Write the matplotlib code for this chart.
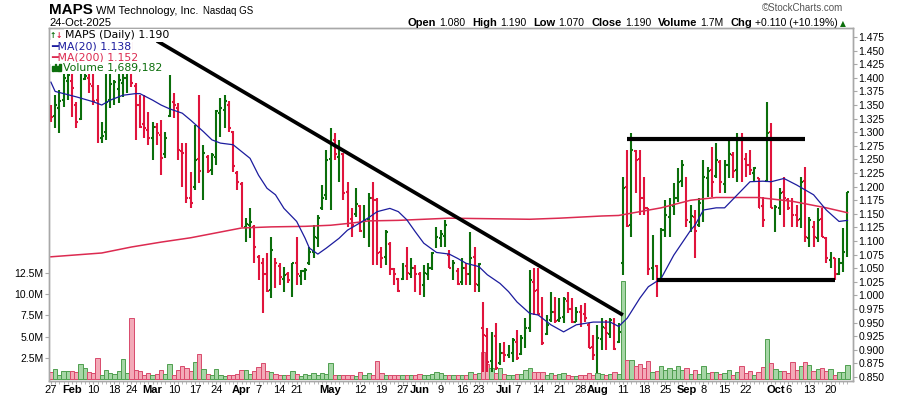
import matplotlib
matplotlib.use('Agg')
import matplotlib.pyplot as plt
from matplotlib.patches import Rectangle
from matplotlib.ticker import FormatStrFormatter
import numpy as np
import pandas as pd

plt.rcParams['font.family'] = ['Liberation Sans', 'DejaVu Sans']

# ---------------- data ----------------
symbol = 'MAPS'
company = 'WM Technology, Inc.'
exchange = 'Nasdaq GS'
chart_date = '24-Oct-2025'

holidays = ['2025-02-17', '2025-04-18', '2025-05-26', '2025-06-19', '2025-07-04', '2025-09-01']
dates = pd.bdate_range('2025-01-27', '2025-10-24', freq='C', holidays=holidays)

opens = [
    1.340, 1.330, 1.345, 1.360, 1.395, 1.395, 1.350, 1.325, 1.398, 1.400,
    1.385, 1.360, 1.290, 1.300, 1.360, 1.385, 1.380, 1.390, 1.400, 1.455,
    1.385, 1.350, 1.315, 1.305, 1.290, 1.310, 1.295, 1.260, 1.330, 1.355,
    1.345, 1.265, 1.260, 1.180, 1.200, 1.250, 1.230, 1.255, 1.230, 1.255,
    1.335, 1.340, 1.350, 1.300, 1.225, 1.205, 1.125, 1.130, 1.125, 1.070,
    1.060, 1.040, 1.010, 1.065, 1.055, 1.030, 1.040, 1.030, 1.060, 1.035,
    1.045, 1.060, 1.080, 1.105, 1.160, 1.185, 1.250, 1.285, 1.255, 1.260,
    1.190, 1.140, 1.150, 1.165, 1.115, 1.140, 1.180, 1.175, 1.080, 1.070,
    1.095, 1.048, 1.030, 1.030, 1.055, 1.040, 1.050, 1.040, 1.020, 1.040,
    1.050, 1.090, 1.105, 1.110, 1.075, 1.050, 1.045, 1.025, 1.050, 1.040,
    1.070, 1.020, 0.940, 0.925, 0.880, 0.925, 0.875, 0.895, 0.890, 0.895,
    0.915, 0.892, 0.920, 0.940, 1.025, 1.010, 0.965, 0.930, 0.955, 0.970,
    0.955, 0.960, 0.990, 0.975, 0.952, 0.970, 0.965, 0.945, 0.905, 0.890,
    0.920, 0.940, 0.930, 0.955, 0.915, 1.060, 1.200, 1.130, 1.265, 1.250,
    1.180, 1.160, 1.050, 1.055, 1.030, 1.120, 1.145, 1.165, 1.180, 1.210,
    1.215, 1.135, 1.145, 1.130, 1.170, 1.215, 1.230, 1.220, 1.245, 1.205,
    1.240, 1.258, 1.230, 1.285, 1.250, 1.240, 1.225, 1.215, 1.165, 1.210,
    1.300, 1.160, 1.160, 1.190, 1.175, 1.160, 1.148, 1.140, 1.210, 1.105,
    1.125, 1.105, 1.140, 1.105, 1.065, 1.068, 1.040, 1.060, 1.080]

highs = [
    1.350, 1.368, 1.378, 1.424, 1.420, 1.418, 1.356, 1.414, 1.429, 1.422,
    1.414, 1.387, 1.319, 1.418, 1.422, 1.396, 1.414, 1.418, 1.462, 1.473,
    1.390, 1.368, 1.368, 1.337, 1.319, 1.317, 1.322, 1.300, 1.405, 1.372,
    1.354, 1.280, 1.280, 1.227, 1.313, 1.368, 1.277, 1.258, 1.262, 1.341,
    1.363, 1.368, 1.357, 1.302, 1.229, 1.208, 1.142, 1.161, 1.129, 1.074,
    1.069, 1.078, 1.107, 1.069, 1.060, 1.052, 1.043, 1.060, 1.107, 1.047,
    1.050, 1.089, 1.129, 1.148, 1.203, 1.267, 1.308, 1.299, 1.286, 1.262,
    1.208, 1.161, 1.197, 1.166, 1.166, 1.188, 1.208, 1.179, 1.089, 1.120,
    1.098, 1.050, 1.032, 1.060, 1.089, 1.069, 1.056, 1.043, 1.056, 1.060,
    1.080, 1.126, 1.120, 1.139, 1.083, 1.065, 1.050, 1.069, 1.060, 1.117,
    1.089, 1.060, 0.988, 0.940, 0.933, 0.949, 0.913, 0.914, 0.909, 0.922,
    0.936, 0.927, 0.958, 1.047, 1.050, 1.050, 0.997, 0.964, 1.006, 0.997,
    0.995, 0.997, 1.006, 0.995, 0.979, 0.982, 0.986, 0.949, 0.927, 0.946,
    0.958, 0.955, 0.958, 0.958, 0.949, 1.218, 1.267, 1.299, 1.267, 1.267,
    1.218, 1.161, 1.111, 1.056, 1.124, 1.175, 1.179, 1.207, 1.234, 1.249,
    1.218, 1.166, 1.157, 1.179, 1.249, 1.236, 1.273, 1.280, 1.249, 1.249,
    1.286, 1.264, 1.299, 1.299, 1.262, 1.267, 1.236, 1.216, 1.181, 1.356,
    1.317, 1.166, 1.197, 1.218, 1.179, 1.179, 1.166, 1.218, 1.236, 1.144,
    1.137, 1.161, 1.161, 1.107, 1.080, 1.069, 1.069, 1.124, 1.190]

lows = [
    1.319, 1.308, 1.299, 1.346, 1.360, 1.328, 1.308, 1.322, 1.396, 1.372,
    1.350, 1.280, 1.280, 1.286, 1.344, 1.350, 1.354, 1.365, 1.372, 1.383,
    1.286, 1.308, 1.289, 1.277, 1.249, 1.277, 1.221, 1.253, 1.328, 1.326,
    1.249, 1.199, 1.170, 1.161, 1.194, 1.207, 1.175, 1.225, 1.221, 1.240,
    1.291, 1.308, 1.300, 1.227, 1.194, 1.126, 1.098, 1.106, 1.060, 1.028,
    0.968, 1.006, 0.995, 1.014, 1.019, 1.006, 1.023, 0.997, 1.019, 1.019,
    1.028, 1.056, 1.069, 1.089, 1.157, 1.175, 1.157, 1.249, 1.208, 1.175,
    1.126, 1.107, 1.144, 1.117, 1.106, 1.089, 1.056, 1.056, 1.050, 1.056,
    1.038, 1.019, 1.006, 1.028, 1.028, 1.032, 1.006, 1.001, 0.997, 1.028,
    1.047, 1.087, 1.089, 1.089, 1.050, 1.028, 1.019, 1.019, 1.019, 1.019,
    1.006, 1.006, 0.859, 0.859, 0.859, 0.863, 0.872, 0.878, 0.885, 0.878,
    0.881, 0.890, 0.903, 0.933, 0.964, 0.964, 0.909, 0.927, 0.951, 0.949,
    0.951, 0.949, 0.968, 0.949, 0.951, 0.942, 0.951, 0.903, 0.881, 0.857,
    0.900, 0.900, 0.922, 0.900, 0.913, 1.038, 1.126, 1.107, 1.188, 1.148,
    1.148, 1.038, 1.028, 0.997, 1.028, 1.107, 1.107, 1.148, 1.172, 1.199,
    1.126, 1.117, 1.069, 1.126, 1.135, 1.181, 1.181, 1.216, 1.188, 1.188,
    1.216, 1.216, 1.208, 1.208, 1.218, 1.221, 1.208, 1.161, 1.126, 1.208,
    1.161, 1.117, 1.148, 1.126, 1.157, 1.126, 1.126, 1.124, 1.098, 1.089,
    1.089, 1.098, 1.107, 1.060, 1.050, 1.028, 1.038, 1.043, 1.070]

closes = [
    1.328, 1.350, 1.357, 1.400, 1.405, 1.381, 1.319, 1.381, 1.403, 1.389,
    1.357, 1.289, 1.293, 1.356, 1.389, 1.392, 1.396, 1.400, 1.457, 1.390,
    1.350, 1.310, 1.308, 1.289, 1.310, 1.299, 1.253, 1.289, 1.357, 1.350,
    1.267, 1.262, 1.179, 1.170, 1.249, 1.229, 1.262, 1.229, 1.258, 1.339,
    1.344, 1.357, 1.308, 1.238, 1.208, 1.128, 1.131, 1.135, 1.089, 1.060,
    1.039, 1.008, 1.083, 1.060, 1.034, 1.038, 1.028, 1.060, 1.039, 1.045,
    1.047, 1.080, 1.107, 1.142, 1.179, 1.249, 1.286, 1.260, 1.267, 1.188,
    1.139, 1.129, 1.168, 1.118, 1.139, 1.179, 1.175, 1.078, 1.069, 1.117,
    1.049, 1.039, 1.008, 1.058, 1.041, 1.050, 1.039, 1.021, 1.041, 1.050,
    1.078, 1.107, 1.113, 1.129, 1.050, 1.060, 1.021, 1.050, 1.039, 1.069,
    1.021, 1.058, 0.927, 0.878, 0.927, 0.867, 0.894, 0.890, 0.894, 0.918,
    0.885, 0.922, 0.940, 1.028, 1.008, 0.966, 0.913, 0.946, 0.970, 0.953,
    0.958, 0.993, 0.975, 0.951, 0.970, 0.964, 0.958, 0.903, 0.890, 0.922,
    0.942, 0.931, 0.955, 0.902, 0.933, 1.197, 1.128, 1.267, 1.249, 1.179,
    1.161, 1.049, 1.058, 1.028, 1.120, 1.148, 1.168, 1.179, 1.208, 1.240,
    1.139, 1.146, 1.118, 1.170, 1.218, 1.229, 1.208, 1.249, 1.208, 1.240,
    1.260, 1.229, 1.286, 1.249, 1.240, 1.231, 1.234, 1.161, 1.139, 1.299,
    1.161, 1.163, 1.188, 1.179, 1.161, 1.148, 1.139, 1.208, 1.107, 1.139,
    1.107, 1.139, 1.107, 1.069, 1.072, 1.039, 1.060, 1.080, 1.190]

# volume in millions of shares
volume_m = [
    0.80, 1.20, 0.50, 0.90, 0.90, 0.90, 0.80, 1.70, 1.30, 0.80,
    0.70, 2.50, 0.50, 1.10, 0.70, 0.55, 0.90, 2.40, 0.70, 7.20,
    1.10, 0.90, 0.50, 0.70, 0.50, 0.55, 1.10, 0.55, 1.70, 0.50,
    1.10, 1.50, 1.30, 0.90, 2.00, 2.90, 1.20, 0.55, 0.47, 1.19,
    0.40, 0.28, 0.47, 0.40, 0.55, 1.07, 1.07, 0.55, 0.95, 1.34,
    1.86, 0.87, 0.79, 0.55, 0.40, 0.47, 0.40, 0.87, 0.55, 0.28,
    0.55, 0.40, 0.67, 0.47, 0.67, 0.55, 1.86, 0.47, 0.47, 0.40,
    0.47, 0.40, 0.28, 0.79, 0.47, 0.67, 0.40, 2.13, 0.67, 0.47,
    0.40, 0.40, 0.40, 0.47, 0.47, 0.40, 0.47, 0.55, 0.40, 0.47,
    0.55, 0.79, 0.67, 0.40, 0.47, 0.47, 0.47, 0.40, 0.40, 0.79,
    0.55, 0.67, 3.16, 1.74, 1.26, 0.67, 1.26, 0.55, 0.40, 0.40,
    0.55, 0.55, 1.07, 1.26, 0.79, 0.79, 0.79, 0.40, 0.67, 0.40,
    0.55, 0.67, 0.40, 0.28, 0.28, 0.40, 0.47, 0.67, 0.47, 0.67,
    0.55, 0.40, 0.55, 0.79, 0.55, 11.60, 2.25, 2.25, 1.46, 1.74,
    1.26, 2.13, 0.79, 0.87, 1.46, 1.07, 1.26, 1.07, 1.46, 1.07,
    1.26, 0.55, 1.07, 0.55, 1.46, 0.67, 0.79, 0.79, 0.55, 0.67,
    1.07, 0.40, 0.79, 1.46, 0.67, 0.95, 0.40, 0.79, 1.38, 4.70,
    1.86, 1.19, 0.95, 0.87, 0.67, 1.98, 1.07, 1.46, 1.98, 1.58,
    0.87, 1.19, 1.26, 0.87, 1.19, 0.40, 0.79, 0.79, 1.689182]
last_volume = 1689182

# moving averages (trading-day number, value)
ma20_days = [0, 1, 3, 6, 10, 12, 14, 17, 20, 21, 24, 26, 28, 31, 33, 36, 38, 40, 43, 47,
             49, 51, 53, 55, 58, 60, 61, 63, 65, 68, 70, 72, 75, 77, 80, 82, 84, 86, 88, 91,
             94, 96, 98, 101, 103, 106, 108, 110, 113, 115, 118, 121, 124, 128, 132, 134, 136,
             139, 141, 144, 147, 151, 152, 154, 157, 159, 162, 165, 168, 170, 173, 176, 180,
             183, 186, 188]
ma20_vals = [1.392, 1.375, 1.371, 1.365, 1.356, 1.350, 1.359, 1.368, 1.371, 1.371, 1.359, 1.350,
             1.343, 1.335, 1.322, 1.301, 1.286, 1.280, 1.277, 1.252, 1.221, 1.197, 1.185, 1.160,
             1.136, 1.105, 1.087, 1.076, 1.087, 1.105, 1.120, 1.129, 1.143, 1.154, 1.160, 1.154,
             1.139, 1.117, 1.096, 1.079, 1.076, 1.068, 1.059, 1.053, 1.038, 1.022, 1.007, 0.988,
             0.967, 0.964, 0.946, 0.933, 0.946, 0.951, 0.951, 0.943, 0.958, 0.995, 1.016, 1.031,
             1.074, 1.120, 1.129, 1.157, 1.161, 1.161, 1.185, 1.209, 1.210, 1.209, 1.215, 1.203,
             1.185, 1.157, 1.136, 1.138]
ma200_days = [0, 12, 19, 26, 33, 37, 45, 52, 60, 66, 71, 75, 82, 94, 113, 120, 130, 134, 144,
              151, 157, 167, 175, 183, 188]
ma200_vals = [1.071, 1.078, 1.089, 1.098, 1.106, 1.112, 1.124, 1.126, 1.127, 1.129, 1.133, 1.137,
              1.138, 1.142, 1.140, 1.142, 1.146, 1.147, 1.161, 1.175, 1.180, 1.180, 1.173, 1.161,
              1.152]

# annotation lines drawn on the chart
trend_dates = ['2025-03-04', '2025-08-11']
trend_prices = [1.468, 0.964]
box_top_dates = ['2025-08-12', '2025-10-10']
box_top_price = 1.287
box_bottom_dates = ['2025-08-21', '2025-10-21']
box_bottom_price = 1.028

tick_dates = ['2025-01-27', '2025-02-03', '2025-02-10', '2025-02-18', '2025-02-24',
              '2025-03-03', '2025-03-10', '2025-03-17', '2025-03-24', '2025-04-01',
              '2025-04-07', '2025-04-14', '2025-04-21', '2025-05-01', '2025-05-12',
              '2025-05-19', '2025-05-27', '2025-06-02', '2025-06-09', '2025-06-16',
              '2025-06-23', '2025-07-01', '2025-07-07', '2025-07-14', '2025-07-21',
              '2025-07-28', '2025-08-01', '2025-08-11', '2025-08-18', '2025-08-25',
              '2025-09-02', '2025-09-08', '2025-09-15', '2025-09-22', '2025-10-01',
              '2025-10-06', '2025-10-13', '2025-10-20']
tick_labels = ['27', 'Feb', '10', '18', '24', 'Mar', '10', '17', '24', 'Apr',
               '7', '14', '21', 'May', '12', '19', '27', 'Jun', '9', '16',
               '23', 'Jul', '7', '14', '21', '28', 'Aug', '11', '18', '25',
               'Sep', '8', '15', '22', 'Oct', '6', '13', '20']

price_ticks = np.round(np.arange(0.850, 1.4751, 0.025), 3)
vol_ticks = [2.5, 5.0, 7.5, 10.0, 12.5]

# ---------------- figure ----------------
W, H = 900, 396
fig = plt.figure(figsize=(W / 100, H / 100), dpi=100)


def fx(px):
    return px / W


def fy(py):
    return 1 - py / H


GREEN = '#0b6e0b'
RED = '#e0143c'
NAVY = '#1c1c9e'
MA200_C = '#dc2a50'
GRAY = '#a8a8a8'

ax_v = fig.add_axes([fx(49), fy(381), (853 - 49) / W, (381 - 27.5) / H])
ax = ax_v.twinx()

x = np.arange(len(dates))
pos = {d.strftime('%Y-%m-%d'): i for i, d in enumerate(dates)}

closes_a = np.array(closes)
up = np.r_[closes[0] > opens[0], np.diff(closes_a) > 0]
bar_col = np.where(up, GREEN, RED)
vol_face = np.where(up, '#a6d6a6', '#f3aab8')
vol_edge = np.where(up, '#4f9f4f', '#d94a6c')

# volume
ax_v.bar(x, volume_m, width=1.0, color=vol_face, edgecolor=vol_edge, linewidth=0.7)

# OHLC bars
ax.vlines(x, lows, highs, colors=bar_col, linewidth=1.5)
ax.hlines(opens, x - 0.45, x, colors=bar_col, linewidth=1.5)
ax.hlines(closes, x, x + 0.45, colors=bar_col, linewidth=1.5)

# moving averages
ax.plot(ma200_days, ma200_vals, color=MA200_C, lw=1.1)
ax.plot(ma20_days, ma20_vals, color=NAVY, lw=0.9)

# trend line and range box
ax.plot([pos[d] for d in trend_dates], trend_prices, color='black', lw=2.7, solid_capstyle='butt')
ax.plot([pos[d] for d in box_top_dates], [box_top_price] * 2, color='black', lw=3, solid_capstyle='butt')
ax.plot([pos[d] for d in box_bottom_dates], [box_bottom_price] * 2, color='black', lw=3,
        solid_capstyle='butt')

# axes
ax.set_xlim(-0.45, 189.3)
ax.set_ylim(0.8427, 1.4925)
ax_v.set_ylim(-0.26, 41.6)

ax.set_yticks(price_ticks)
ax.yaxis.set_major_formatter(FormatStrFormatter('%.3f'))
ax.tick_params(axis='y', length=3, width=0.8, color=GRAY, labelsize=7.5, pad=1)

ax_v.set_yticks(vol_ticks)
ax_v.set_yticklabels([f'{v:.1f}M' for v in vol_ticks])
ax_v.tick_params(axis='y', length=3, width=0.8, color=GRAY, labelsize=7.5, pad=1)

ax_v.set_xticks([pos[d] for d in tick_dates])
ax_v.set_xticklabels(tick_labels)
ax_v.set_xticks(x, minor=True)
ax_v.tick_params(axis='x', which='major', length=2, width=0.8, color=GRAY, labelsize=8, pad=1)
ax_v.tick_params(axis='x', which='minor', length=2, width=0.6, color=GRAY)
for lab in ax_v.get_xticklabels():
    if lab.get_text().isalpha():
        lab.set_fontweight('bold')

for a in (ax, ax_v):
    for s in a.spines.values():
        s.set_color(GRAY)
        s.set_linewidth(1)

# ---------------- legend inside the plot ----------------
lg = dict(family='DejaVu Sans', fontsize=7.8)
wb = dict(boxstyle='square,pad=0.1', fc='white', ec='none')
fig.text(fx(65), fy(38.5), f'{symbol} (Daily) {closes[-1]:.3f}', color='black', bbox=wb, **lg)
fig.text(fx(50), fy(38.5), '\u2191', color=GREEN, family='DejaVu Sans', fontsize=5.5, fontweight='bold')
fig.text(fx(56), fy(38.5), '\u2193', color=RED, family='DejaVu Sans', fontsize=5.5, fontweight='bold')
fig.text(fx(51), fy(49.5), f'\u2501MA(20) {ma20_vals[-1]:.3f}', color=NAVY, bbox=wb, **lg)
fig.text(fx(51), fy(60.5), f'\u2501MA(200) {ma200_vals[-1]:.3f}', color=MA200_C, bbox=wb, **lg)
fig.text(fx(63), fy(71), f'Volume {last_volume:,}', color=GREEN, bbox=wb, **lg)
for bx, bh in zip([52, 54.5, 57, 59.5], [5, 7, 5.5, 7]):
    fig.add_artist(Rectangle((fx(bx), fy(71)), 1.8 / W, bh / H, transform=fig.transFigure,
                             color=GREEN, zorder=5))

# ---------------- header ----------------
renderer = fig.canvas.get_renderer()


def row(items, x0, y, align='left'):
    placed = []
    cur = 0.0
    for s, kw, gap in items:
        cur += gap
        t = fig.text(0, fy(y), s, **kw)
        w = t.get_window_extent(renderer).width
        placed.append((t, cur))
        cur += w
    start = x0 if align == 'left' else x0 - cur
    for t, p in placed:
        t.set_x(fx(start + p))


row([(symbol, dict(fontsize=11, fontweight='bold'), 0),
     (company, dict(fontsize=8), 3),
     (exchange, dict(fontsize=7), 5)], 49, 14)
fig.text(fx(49), fy(26), chart_date, fontsize=8)
fig.text(fx(843), fy(11), '\u00a9StockCharts.com', fontsize=7, color='#555555', ha='right')

chg = closes[-1] - closes[-2]
pct = chg / closes[-2] * 100
b8 = dict(fontsize=8, fontweight='bold')
r8 = dict(fontsize=7.5)
row([('Open', b8, 0), (f'{opens[-1]:.3f}', r8, 3),
     ('High', b8, 7), (f'{highs[-1]:.3f}', r8, 3),
     ('Low', b8, 7), (f'{lows[-1]:.3f}', r8, 3),
     ('Close', b8, 7), (f'{closes[-1]:.3f}', r8, 3),
     ('Volume', b8, 7), (f'{last_volume / 1e6:.1f}M', r8, 3),
     ('Chg', b8, 7), (f'{chg:+.3f} ({pct:+.2f}%)', r8, 3),
     ('\u25b2', dict(fontsize=5.5, color=GREEN, family='DejaVu Sans'), 2)], 846, 26, align='right')

fig.savefig('out.png', dpi=100, facecolor='white')
